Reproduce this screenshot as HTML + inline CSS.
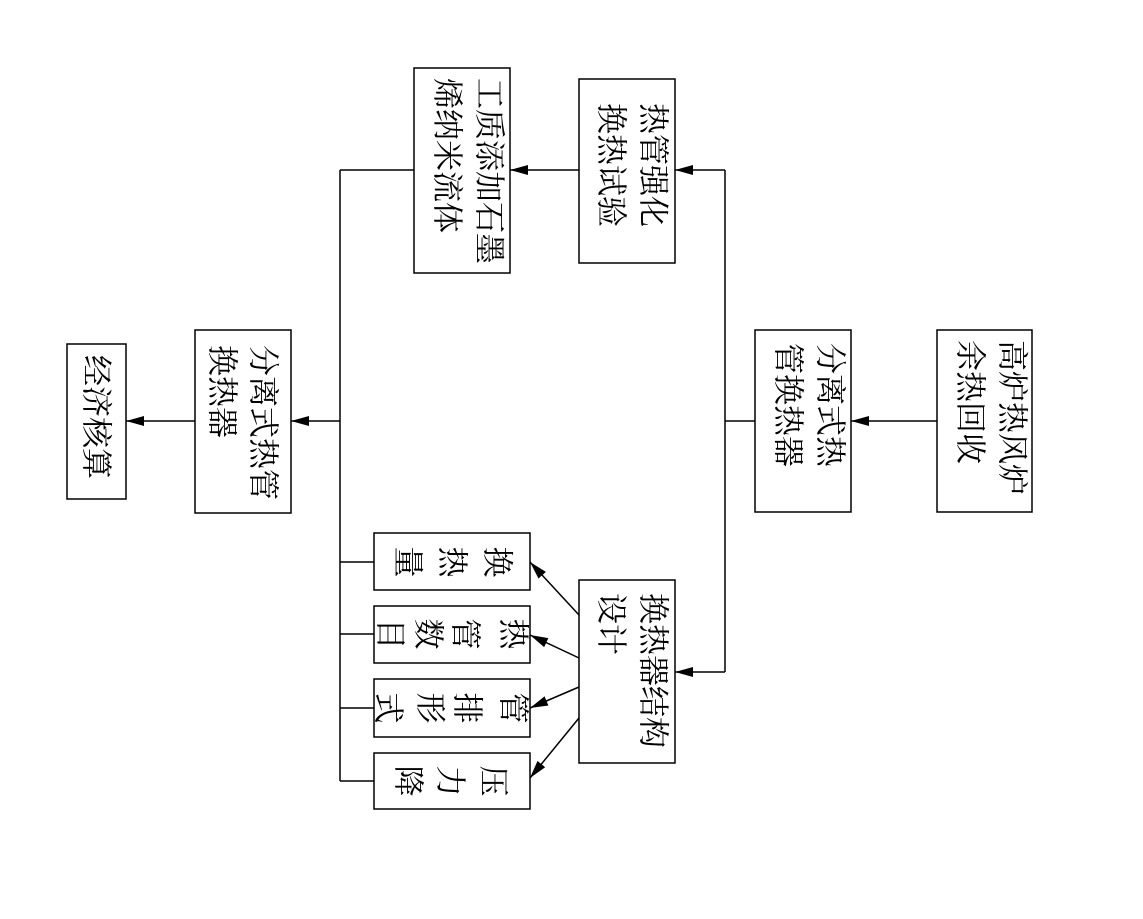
<!DOCTYPE html>
<html><head><meta charset="utf-8"><style>
html,body{margin:0;padding:0;background:#fff;}
text{font-family:"Liberation Serif","Noto Serif CJK SC","Noto Sans CJK SC",serif;font-size:31px;fill:#000;dominant-baseline:central;}
.c{text-anchor:middle;}
</style></head><body>
<svg width="1143" height="914" viewBox="0 0 1143 914" xmlns="http://www.w3.org/2000/svg">
<defs><marker id="a" markerWidth="18" markerHeight="10" refX="18" refY="5" orient="auto" markerUnits="userSpaceOnUse"><path d="M0,0 L18,5 L0,10 Z" fill="#000"/></marker></defs>
<g fill="none" stroke="#000" stroke-width="1.5">
<rect x="937" y="330" width="95" height="182"/>
<rect x="755" y="330" width="96" height="182"/>
<rect x="579" y="79" width="96" height="184"/>
<rect x="414" y="68" width="96" height="205"/>
<rect x="579" y="580" width="96" height="183"/>
<rect x="374" y="533" width="156" height="57"/>
<rect x="374" y="606" width="156" height="57"/>
<rect x="374" y="679" width="156" height="58"/>
<rect x="374" y="753" width="156" height="56"/>
<rect x="195" y="330" width="96" height="183"/>
<rect x="67" y="344" width="59" height="155"/>
<line x1="937" y1="421" x2="851" y2="421" marker-end="url(#a)"/>
<line x1="755" y1="421" x2="725" y2="421"/>
<line x1="725" y1="170" x2="725" y2="672"/>
<line x1="725" y1="170" x2="675" y2="170" marker-end="url(#a)"/>
<line x1="725" y1="672" x2="675" y2="672" marker-end="url(#a)"/>
<line x1="579" y1="170" x2="510" y2="170" marker-end="url(#a)"/>
<line x1="414" y1="170" x2="340" y2="170"/>
<line x1="340" y1="170" x2="340" y2="781"/>
<line x1="340" y1="562" x2="374" y2="562"/>
<line x1="340" y1="634" x2="374" y2="634"/>
<line x1="340" y1="708" x2="374" y2="708"/>
<line x1="340" y1="781" x2="374" y2="781"/>
<line x1="340" y1="421" x2="291" y2="421" marker-end="url(#a)"/>
<line x1="195" y1="421" x2="126" y2="421" marker-end="url(#a)"/>
<line x1="579" y1="615" x2="530" y2="562" marker-end="url(#a)"/>
<line x1="579" y1="658" x2="530" y2="635" marker-end="url(#a)"/>
<line x1="579" y1="687" x2="530" y2="708" marker-end="url(#a)"/>
<line x1="579" y1="718" x2="530" y2="778" marker-end="url(#a)"/>
</g>
<g>
<text transform="translate(1012,340) rotate(90)">高炉热风炉</text>
<text transform="translate(970,340) rotate(90)">余热回收</text>
<text transform="translate(830,343) rotate(90)">分离式热</text>
<text transform="translate(788,343) rotate(90)">管换热器</text>
<text transform="translate(653,103) rotate(90)">热管强化</text>
<text transform="translate(611,103) rotate(90)">换热试验</text>
<text transform="translate(489,78) rotate(90)">工质添加石墨</text>
<text transform="translate(447,78) rotate(90)">烯纳米流体</text>
<text transform="translate(653,593) rotate(90)">换热器结构</text>
<text transform="translate(611,593) rotate(90)">设计</text>
<text transform="translate(263,345) rotate(90)">分离式热管</text>
<text transform="translate(222,345) rotate(90)">换热器</text>
<text transform="translate(96,355) rotate(90)">经济核算</text>

<text class="c" transform="translate(497,562) rotate(90)">换</text>
<text class="c" transform="translate(452,562) rotate(90)">热</text>
<text class="c" transform="translate(408,562) rotate(90)">量</text>

<text class="c" transform="translate(513,634) rotate(90)">热</text>
<text class="c" transform="translate(465,634) rotate(90)">管</text>
<text class="c" transform="translate(428,634) rotate(90)">数</text>
<text class="c" transform="translate(390,634) rotate(90)">目</text>

<text class="c" transform="translate(513,708) rotate(90)">管</text>
<text class="c" transform="translate(467,708) rotate(90)">排</text>
<text class="c" transform="translate(430,708) rotate(90)">形</text>
<text class="c" transform="translate(388,708) rotate(90)">式</text>

<text class="c" transform="translate(493,781) rotate(90)">压</text>
<text class="c" transform="translate(450,781) rotate(90)">力</text>
<text class="c" transform="translate(408,781) rotate(90)">降</text>
</g>
</svg>
</body></html>
